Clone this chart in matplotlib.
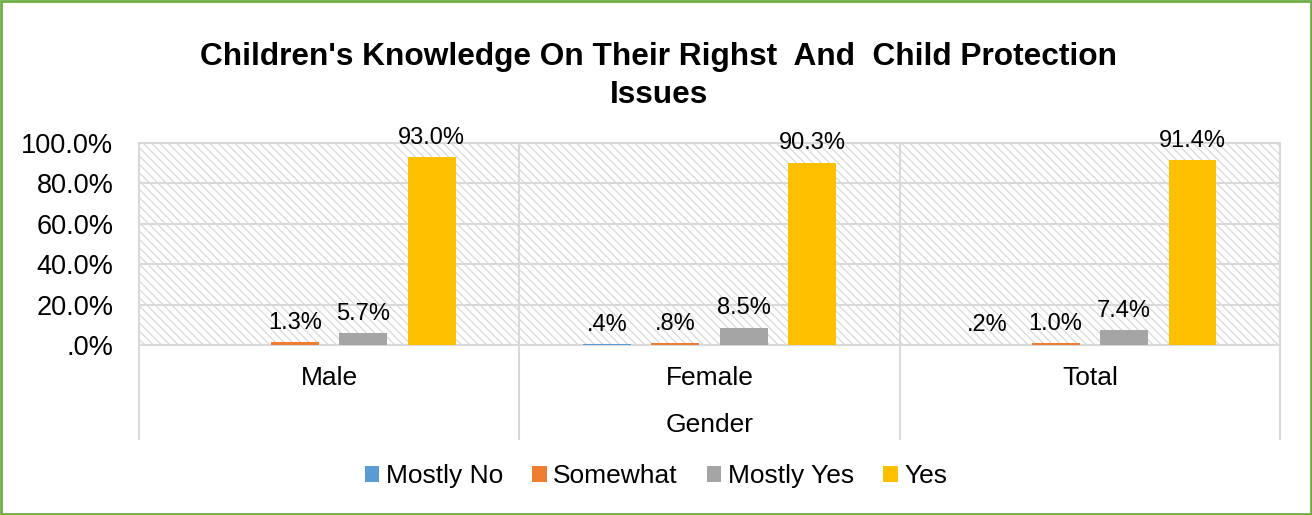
import matplotlib.pyplot as plt
from matplotlib.patches import Rectangle
import numpy as np

plt.rcParams['font.family'] = ['Liberation Sans', 'DejaVu Sans']
plt.rcParams['hatch.color'] = '#d4d4d4'
plt.rcParams['hatch.linewidth'] = 0.9

# survey results, percent of children per gender group
groups = ['Male', 'Female', 'Total']
answers = ['Mostly No', 'Somewhat', 'Mostly Yes', 'Yes']
mostly_no = [0.0, 0.4, 0.2]
somewhat = [1.3, 0.8, 1.0]
mostly_yes = [5.7, 8.5, 7.4]
yes = [93.0, 90.3, 91.4]
colors = ['#5B9BD5', '#ED7D31', '#A5A5A5', '#FFC000']

yticks = [0, 20, 40, 60, 80, 100]
grid_col = '#d9d9d9'


def pct(v):
    s = f'{v:.1f}%'
    if s.startswith('0.'):
        s = s[1:]
    return s


fig = plt.figure(figsize=(13.12, 5.15), dpi=100)
ax = fig.add_axes([139 / 1312, 1 - 345 / 515, 1141 / 1312, 202 / 515])

# hatched plot background
ax.add_patch(Rectangle((0, 0), 1, 1, transform=ax.transAxes, facecolor='white',
                       edgecolor=grid_col, hatch='\\\\\\\\', lw=0, zorder=0))

x = np.arange(len(groups))
step = 0.18
width = 0.126
series = [mostly_no, somewhat, mostly_yes, yes]
for i, (name, vals, c) in enumerate(zip(answers, series, colors)):
    pos = x + (i - 1.5) * step
    ax.bar(pos, vals, width, color=c, label=name, zorder=3)
    for p, v in zip(pos, vals):
        if v > 0:
            ax.annotate(pct(v), (p, v), xytext=(0, 6), textcoords='offset points',
                        ha='center', va='bottom', fontsize=17, zorder=4)

ax.set_xlim(-0.5, len(groups) - 0.5)
ax.set_ylim(0, 100)
ax.set_yticks(yticks)
ax.set_yticklabels([pct(t) for t in yticks], fontsize=19.5)
ax.set_xticks(x)
ax.set_xticklabels(groups, fontsize=19)
ax.tick_params(length=0)
ax.tick_params(axis='y', pad=18.5)
ax.tick_params(axis='x', pad=15)

ax.yaxis.grid(True, color=grid_col, lw=1.5, zorder=1)
for s in ['top', 'right', 'left', 'bottom']:
    ax.spines[s].set_color(grid_col)
    ax.spines[s].set_linewidth(1.5)

# group separators running down through the category labels
ax.vlines(np.arange(len(groups) + 1) - 0.5, -0.47, 1, color=grid_col, lw=1.5,
          transform=ax.get_xaxis_transform(), clip_on=False, zorder=1)

ax.set_xlabel('Gender', fontsize=19, labelpad=17)

# two-line title
fig.text(0.502, 1 - 65 / 515, "Children's Knowledge On Their Righst  And  Child Protection",
         ha='center', va='baseline', fontsize=22.8, fontweight='bold')
fig.text(0.502, 1 - 103 / 515, 'Issues',
         ha='center', va='baseline', fontsize=22.8, fontweight='bold')

fig.legend(loc='center', bbox_to_anchor=(0.5, 1 - 476 / 515), ncol=4, frameon=False,
           fontsize=19, handlelength=0.55, handleheight=0.55, handletextpad=0.25,
           columnspacing=1.1)

# green outer frame
fig.add_artist(Rectangle((0.001, 0.002), 0.998, 0.996, transform=fig.transFigure,
                         fill=False, edgecolor='#70AD47', lw=2))

fig.savefig('out.png', dpi=100)
